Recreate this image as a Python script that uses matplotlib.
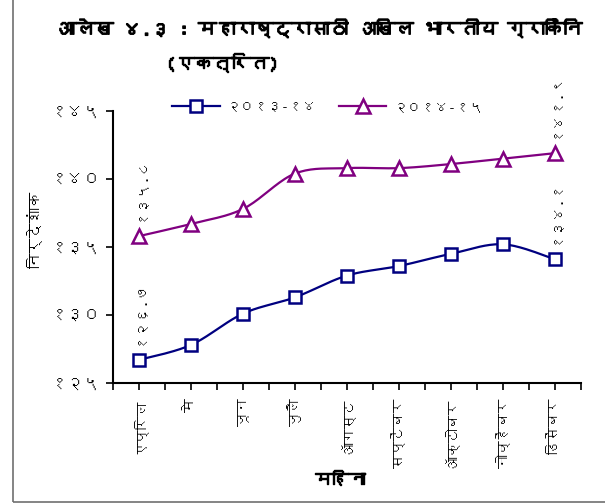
import matplotlib
matplotlib.use("Agg")
import matplotlib.pyplot as plt
import matplotlib.patheffects as pe
import numpy as np
from matplotlib import font_manager
from matplotlib.ft2font import FT2Font
from matplotlib.patches import Rectangle

# ---------------- data ----------------
months = ["एप्रिल", "मे", "जून", "जुलै", "ऑगस्ट", "सप्टेंबर", "ऑक्टोबर", "नोव्हेंबर", "डिसेंबर"]
series_names = ["२०१३-१४", "२०१४-१५"]
values_2013_14 = [126.7, 127.8, 130.1, 131.3, 132.9, 133.6, 134.5, 135.2, 134.1]
values_2014_15 = [135.8, 136.7, 137.8, 140.4, 140.8, 140.8, 141.1, 141.5, 141.9]
y_ticks = [125, 130, 135, 140, 145]
title_line1 = "आलेख ४.३ : महाराष्ट्रासाठी अखिल भारतीय ग्राकिंनि"
title_line2 = "(एकत्रित)"
y_label = "निर्देशांक"
x_label = "महिना"

# ---------------- font ----------------
deva = None
for f in font_manager.fontManager.ttflist:
    try:
        cm = FT2Font(f.fname).get_charmap()
    except Exception:
        continue
    if 0x0915 in cm and 0x0967 in cm:
        deva = f.name
        break
fam = [deva, "DejaVu Sans"] if deva else ["DejaVu Sans"]
plt.rcParams["font.family"] = fam

BOLD = [pe.withStroke(linewidth=1.0, foreground="black")]

DIG = str.maketrans("0123456789", "०१२३४५६७८९")
def dn(v):
    return str(v).translate(DIG)

def smooth(x, y, n=20):
    x = np.asarray(x, float); y = np.asarray(y, float)
    px = np.concatenate([[x[0]], x, [x[-1]]])
    py = np.concatenate([[y[0]], y, [y[-1]]])
    xs, ys = [], []
    t = np.linspace(0, 1, n, endpoint=False)
    for i in range(1, len(px) - 2):
        p0, p1, p2, p3 = (np.array([px[j], py[j]]) for j in (i - 1, i, i + 1, i + 2))
        c1 = p1 + (p2 - p0) / 6.0
        c2 = p2 - (p3 - p1) / 6.0
        for tt in t:
            b = ((1 - tt) ** 3) * p1 + 3 * ((1 - tt) ** 2) * tt * c1 + 3 * (1 - tt) * tt ** 2 * c2 + tt ** 3 * p2
            xs.append(b[0]); ys.append(b[1])
    xs.append(x[-1]); ys.append(y[-1])
    return np.array(xs), np.array(ys)

# ---------------- figure ----------------
fig = plt.figure(figsize=(6.05, 5.04), dpi=100)
fig.patch.set_facecolor("white")
ax = fig.add_axes([113 / 605, 1 - 383 / 504, (581 - 113) / 605, (383 - 111) / 504])

x = np.arange(len(months))
colors = ["#000080", "#800080"]
markers = ["s", "^"]
for vals, c, m, name in zip([values_2013_14, values_2014_15], colors, markers, series_names):
    sx, sy = smooth(x, vals)
    ms = 9 if m == "s" else 10
    ax.plot(sx, sy, color=c, lw=1.6, zorder=2)
    ax.plot(x, vals, ls="none", marker=m, ms=ms, mfc="white", mec=c, mew=1.8, zorder=3)
    ax.plot([], [], color=c, lw=1.6, marker=m, ms=ms, mfc="white", mec=c, mew=1.8, label=name)
    for i in (0, len(vals) - 1):
        ax.annotate(dn(vals[i]), (x[i], vals[i]), xytext=(0, 11), textcoords="offset points",
                    rotation=90, ha="center", va="bottom", fontsize=10.5, annotation_clip=False)

ax.set_xlim(-0.5, len(months) - 0.5)
ax.set_ylim(125, 145)
ax.set_yticks(y_ticks)
ax.set_yticklabels([dn(t) for t in y_ticks], fontsize=12)
ax.set_xticks(np.arange(-0.5, len(months), 1.0))
ax.set_xticklabels([])
ax.set_xticks(x, minor=True)
ax.set_xticklabels(months, minor=True, rotation=90, fontsize=10, va="top")
ax.tick_params(axis="x", which="both", direction="out", length=5, width=1.2, pad=6)
ax.tick_params(axis="y", direction="out", length=5, width=1.2, pad=4)
for s in ("top", "right"):
    ax.spines[s].set_visible(False)
for s in ("left", "bottom"):
    ax.spines[s].set_linewidth(1.5)

leg = ax.legend(loc="center", bbox_to_anchor=(328 / 605, 1 - 107 / 504), bbox_transform=fig.transFigure,
                ncol=2, frameon=False, fontsize=10, handlelength=3.4, columnspacing=1.6, handletextpad=0.5)

fig.text(35 / 605, 1 - 230 / 504, y_label, rotation=90, ha="center", va="center", fontsize=11)
fig.text(340 / 605, 1 - 479 / 504, x_label, ha="center", va="center", fontsize=12, path_effects=BOLD)
fig.text(320 / 605, 1 - 28 / 504, title_line1, ha="center", va="center", fontsize=13.5, path_effects=BOLD)
fig.text(222 / 605, 1 - 62 / 504, title_line2, ha="center", va="center", fontsize=13.5, path_effects=BOLD)

fig.add_artist(Rectangle((12.5 / 605, 2.5 / 504), 1.0, 1.0, transform=fig.transFigure,
                         fill=False, ec="#707070", lw=1.2))

fig.savefig("out.png", dpi=100)
